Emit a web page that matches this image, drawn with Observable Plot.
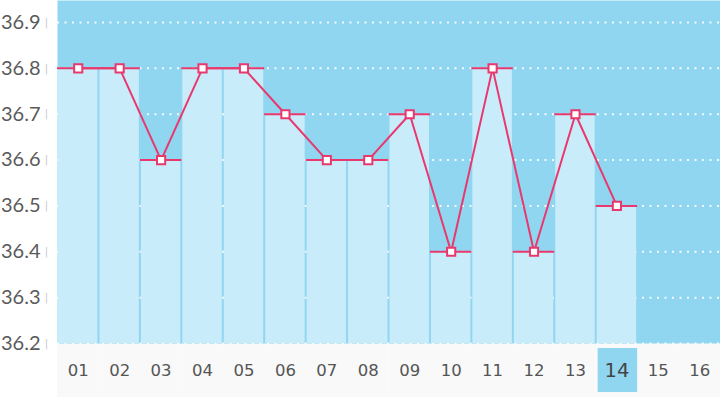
<!DOCTYPE html>
<html>
<head>
<meta charset="utf-8">
<script src="https://cdn.jsdelivr.net/npm/d3@7"></script>
<script src="https://cdn.jsdelivr.net/npm/@observablehq/plot@0.6"></script>
<style>
  html, body { margin: 0; padding: 0; background: #ffffff; }
  #chart svg { display: block; }
</style>
</head>
<body>
<div id="chart"></div>
<script>
const days = ["01","02","03","04","05","06","07","08","09","10","11","12","13","14","15","16"];
const recordedDays = ["01","02","03","04","05","06","07","08","09","10","11","12","13","14"];
const temps = [36.8, 36.8, 36.6, 36.8, 36.8, 36.7, 36.6, 36.6, 36.7, 36.4, 36.8, 36.4, 36.7, 36.5];
const yTicks = [36.2, 36.3, 36.4, 36.5, 36.6, 36.7, 36.8, 36.9];
const highlightDay = ["14"];
const yMin = 36.2, yMax = 36.948;

const data = recordedDays.map((d, i) => ({day: d, temp: temps[i]}));

const red = "#e8386d";
const bg = "#90d6f0";
const barFill = "#c9ecfa";

const chart = Plot.plot({
  width: 720,
  height: 397,
  marginLeft: 57,
  marginRight: 0,
  marginTop: 0,
  marginBottom: 54,
  style: {background: "transparent", overflow: "visible"},
  x: {type: "band", domain: days, padding: 0, round: false, axis: null},
  y: {domain: [yMin, yMax], axis: null},
  marks: [
    // x-axis strip background
    Plot.barY(days, {x: d => d, y1: () => yMin, y2: () => yMin, insetBottom: -54, fill: "#f9f9f9"}),
    Plot.frame({fill: bg, stroke: null}),
    Plot.ruleY(yTicks, {stroke: "white", strokeWidth: 2, strokeDasharray: "2,5.5", strokeOpacity: 0.9}),
    Plot.barY(data, {x: "day", y1: () => yMin, y2: "temp", fill: barFill, insetLeft: 1, insetRight: 1}),
    Plot.tickY(data, {x: "day", y: "temp", stroke: red, strokeWidth: 2}),
    Plot.line(data, {x: "day", y: "temp", stroke: red, strokeWidth: 2}),
    Plot.dot(data, {x: "day", y: "temp", symbol: "square", r: 4.6, fill: "white", stroke: red, strokeWidth: 2}),
    // highlighted day box
    Plot.barY(highlightDay, {x: d => d, y1: () => yMin, y2: () => yMin, insetTop: 5, insetBottom: -49, insetLeft: 2, insetRight: 0, fill: bg}),
    // y axis labels
    Plot.axisY(yTicks, {tickSize: 0, tickPadding: 17, fontSize: 20, fill: "#5a5a5a", fontFamily: "Lato", label: null, tickFormat: d => d.toFixed(1)}),
    Plot.text(yTicks, {y: d => d, frameAnchor: "left", dx: -11, text: () => "|", fontSize: 10, fill: "#c8c8c8", fontFamily: "DejaVu Sans", textAnchor: "middle"}),
    // x axis labels
    Plot.text(days.filter(d => !highlightDay.includes(d)), {x: d => d, frameAnchor: "bottom", lineAnchor: "middle", dy: 27.5, text: d => d, fontSize: 16.5, fill: "#555", fontFamily: "DejaVu Sans"}),
    Plot.text(highlightDay, {x: d => d, frameAnchor: "bottom", lineAnchor: "middle", dy: 27.5, text: d => d, fontSize: 19.5, fill: "#444", fontFamily: "DejaVu Sans"})
  ]
});
document.getElementById("chart").appendChild(chart);
</script>
</body>
</html>
